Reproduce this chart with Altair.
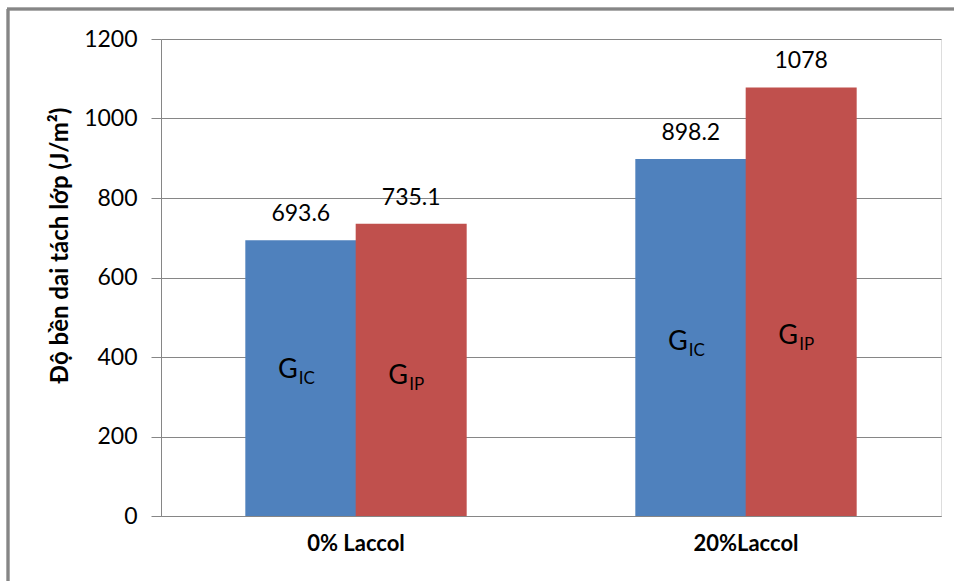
import altair as alt
import pandas as pd

categories = ["0% Laccol", "20%Laccol"]
series = ["GIC", "GIP"]
gic_values = [693.6, 898.2]
gip_values = [735.1, 1078]
value_labels_gic = ["693.6", "898.2"]
value_labels_gip = ["735.1", "1078"]
sub_labels = ["IC", "IP"]
# in-bar label heights (data units)
g_label_y_gic = [367, 438]
g_label_y_gip = [352, 453]

rows = []
for i, c in enumerate(categories):
    rows.append({"cat": c, "ser": "GIC", "val": gic_values[i], "lab": value_labels_gic[i],
                 "gy": g_label_y_gic[i], "sub": sub_labels[0]})
    rows.append({"cat": c, "ser": "GIP", "val": gip_values[i], "lab": value_labels_gip[i],
                 "gy": g_label_y_gip[i], "sub": sub_labels[1]})
df = pd.DataFrame(rows)

FONT = "Lato"
GRAY = "#868686"

x_enc = alt.X("cat:N", sort=categories, title=None,
              scale=alt.Scale(paddingInner=0.434, paddingOuter=0.217),
              axis=alt.Axis(labelAngle=0, labelFont=FONT, labelFontSize=22, labelFontWeight="bold",
                            labelColor="black", labelPadding=17, ticks=False, domainColor=GRAY,
                            domainWidth=1))
xo_enc = alt.XOffset("ser:N", sort=series, scale=alt.Scale(paddingInner=0, paddingOuter=0))
y_scale = alt.Scale(domain=[0, 1200], nice=False)

bars = alt.Chart(df).mark_bar(size=111).encode(
    x=x_enc,
    xOffset=xo_enc,
    y=alt.Y("val:Q", scale=y_scale, title="Độ bền dai tách lớp (J/m²)",
            axis=alt.Axis(values=[0, 200, 400, 600, 800, 1000, 1200], format="d", labelFont=FONT,
                          labelFontSize=23, labelColor="black", labelPadding=14, tickSize=10,
                          tickColor=GRAY, domainColor=GRAY, gridColor=GRAY, gridWidth=1,
                          titleFont=FONT, titleFontSize=24, titleFontWeight="bold",
                          titleColor="black", titleAngle=-90, titleX=-101, titleY=206,
                          titleAlign="center", titleBaseline="middle")),
    color=alt.Color("ser:N", sort=series, legend=None,
                    scale=alt.Scale(domain=series, range=["#4F81BD", "#C0504D"])),
)

vals = alt.Chart(df).mark_text(font=FONT, fontSize=23, color="black", dy=-19,
                               baseline="alphabetic").encode(
    x=alt.X("cat:N", sort=categories), xOffset=xo_enc,
    y=alt.Y("val:Q", scale=y_scale), text="lab:N")

g_big = alt.Chart(df).mark_text(font=FONT, fontSize=27, color="black", dx=-13,
                                baseline="middle", align="center").encode(
    x=alt.X("cat:N", sort=categories), xOffset=xo_enc,
    y=alt.Y("gy:Q", scale=y_scale), text=alt.value("G"))

g_sub = alt.Chart(df).mark_text(font=FONT, fontSize=17, color="black", dx=-2, dy=9,
                                baseline="middle", align="left").encode(
    x=alt.X("cat:N", sort=categories), xOffset=xo_enc,
    y=alt.Y("gy:Q", scale=y_scale), text="sub:N")

frame_left = alt.Chart(df).mark_rule(color=GRAY, strokeWidth=2.5).encode(
    x=alt.value(-153), y=alt.value(-30), y2=alt.value(560))
frame_top = alt.Chart(df).mark_rule(color=GRAY, strokeWidth=2.5).encode(
    x=alt.value(-154), x2=alt.value(800), y=alt.value(-30))

chart = alt.layer(bars, vals, g_big, g_sub, frame_left, frame_top).properties(
    width=780, height=477,
    autosize=alt.AutoSizeParams(type="none"),
    padding={"left": 161, "top": 39, "right": 13, "bottom": 65},
).configure_view(stroke=None).configure(background="white")

chart.save("out.html", embed_options={"renderer": "svg", "actions": False})
